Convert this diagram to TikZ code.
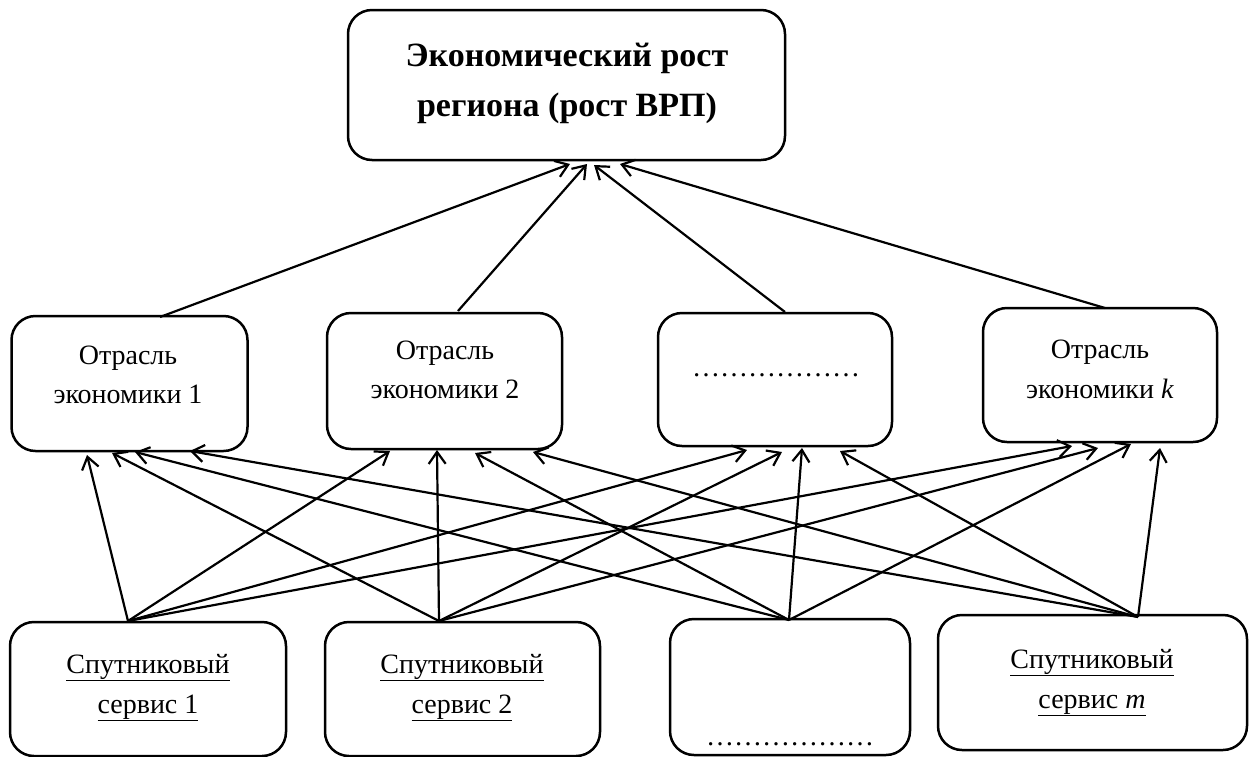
\documentclass[tikz,border=0pt]{standalone}
\usepackage{fontspec}
\setmainfont{Liberation Serif}
\usetikzlibrary{arrows.meta}

\begin{document}
\begin{tikzpicture}[x=1pt,y=-1pt,
  box/.style={draw, line width=2.5pt, rounded corners=24pt, inner sep=0pt},
  link/.style={line width=2.2pt, -{Straight Barb[length=12pt,width=17pt,line width=2.2pt]}},
  headtxt/.style={anchor=base, inner sep=0pt, font=\fontsize{34}{40}\selectfont\bfseries},
  txt/.style={anchor=base, inner sep=0pt, font=\fontsize{28}{32}\selectfont}
]
\useasboundingbox (0,0) rectangle (1251,756);

% goal box
\node[box, minimum width=437pt, minimum height=150pt] (goal) at (566.5,85) {};
\node[headtxt] (goal1) at (567,66) {Экономический рост};
\node[headtxt] (goal2) at (567,116) {региона (рост ВРП)};

% industries
\node[box, minimum width=236pt, minimum height=135pt] (m1) at (129.5,383.5) {};
\node[box, minimum width=235pt, minimum height=136pt] (m2) at (444.5,381) {};
\node[box, minimum width=234pt, minimum height=133pt] (m3) at (775,379.5) {};
\node[box, minimum width=234pt, minimum height=134pt] (m4) at (1100,375) {};
\node[txt] (m1a) at (128,364) {Отрасль};
\node[txt] (m1b) at (128,403) {экономики 1};
\node[txt] (m2a) at (445,359) {Отрасль};
\node[txt] (m2b) at (445,398) {экономики 2};
\node[txt] (m3a) at (776,376) {………………};
\node[txt] (m4a) at (1100,358) {Отрасль};
\node[txt] (m4b) at (1100,398) {экономики \textit{k}};

% satellite services
\node[box, minimum width=276pt, minimum height=134pt] (b1) at (148,689) {};
\node[box, minimum width=275pt, minimum height=134pt] (b2) at (462.5,689) {};
\node[box, minimum width=240pt, minimum height=136pt] (b3) at (790,687) {};
\node[box, minimum width=309pt, minimum height=135pt] (b4) at (1092.5,682.5) {};
\node[txt] (b1a) at (148,673) {\underline{Спутниковый}};
\node[txt] (b1b) at (148,713) {\underline{сервис 1}};
\node[txt] (b2a) at (462,673) {\underline{Спутниковый}};
\node[txt] (b2b) at (462,713) {\underline{сервис 2}};
\node[txt] (b3a) at (790,745) {………………};
\node[txt] (b4a) at (1092,668) {\underline{Спутниковый}};
\node[txt] (b4b) at (1092,708) {\underline{сервис \textit{m}}};

% connector ends on the box borders
\coordinate (m1top) at (160,317);
\coordinate (m2top) at (458,311);
\coordinate (m3top) at (785,312);
\coordinate (m4top) at (1105,308);
\coordinate (g1) at (570,164);
\coordinate (g2) at (587,164);
\coordinate (g3) at (594,165);
\coordinate (g4) at (620,164);

\coordinate (s1) at (128,621);
\coordinate (s2) at (439,621);
\coordinate (s3) at (789,620);
\coordinate (s4) at (1138,617);

\coordinate (m1i1) at (87,455);
\coordinate (m1i2) at (112,453);
\coordinate (m1i3) at (135,452);
\coordinate (m1i4) at (190,451);
\coordinate (m2i1) at (390,451);
\coordinate (m2i2) at (437,450);
\coordinate (m2i3) at (475,453);
\coordinate (m2i4) at (533,452);
\coordinate (m3i1) at (747,450);
\coordinate (m3i2) at (782,452);
\coordinate (m3i3) at (802,448);
\coordinate (m3i4) at (840,451);
\coordinate (m4i1) at (1072,446);
\coordinate (m4i2) at (1098,448);
\coordinate (m4i3) at (1131,444);
\coordinate (m4i4) at (1160,448);

% industries feed regional growth
\draw[link] (m1top) -- (g1);
\draw[link] (m2top) -- (g2);
\draw[link] (m3top) -- (g3);
\draw[link] (m4top) -- (g4);

% every service feeds every industry
\foreach \s in {1,2,3,4}{
  \draw[link] (s\s) -- (m1i\s);
  \draw[link] (s\s) -- (m2i\s);
  \draw[link] (s\s) -- (m3i\s);
  \draw[link] (s\s) -- (m4i\s);
}
\end{tikzpicture}
\end{document}
